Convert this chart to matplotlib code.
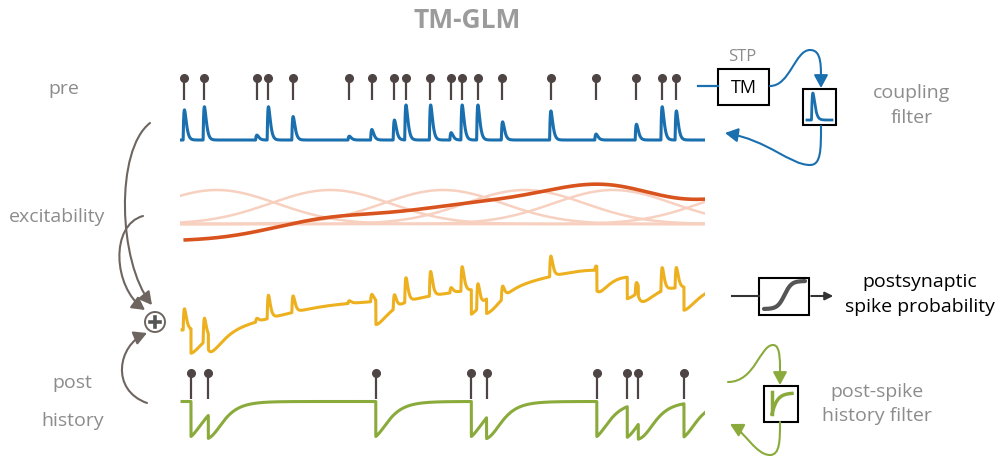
import numpy as np
import matplotlib.pyplot as plt
from matplotlib.patches import Rectangle, Circle, FancyArrowPatch
from matplotlib.path import Path

plt.rcParams['font.family'] = ['Open Sans', 'DejaVu Sans']

# spike times in ms (1000 ms window)
pre_spikes = [8, 46, 146, 168, 215, 322, 365, 408, 430, 477, 516, 537, 567, 614, 706, 792, 869, 918, 945]
# coupling amplitude of each pre spike after the TM short-term plasticity
pre_amps = [0.86, 0.95, 0.14, 0.95, 0.67, 0.11, 0.30, 0.57, 1.0, 1.0, 0.21, 1.0, 1.0, 0.52, 0.83, 0.17, 0.45, 0.95, 0.83]
post_spikes = [21, 54, 373, 555, 584, 794, 852, 873, 960]

# slow excitability: gaussian basis functions (ms) and their weights
basis_centers = [70, 286, 501, 657, 825, 1105]
basis_weights = [0, 20, 22, 22, 46, 42]
basis_sigma = 114

blue = '#1a6faf'
orange = '#d9531e'
faint = '#f7d0bf'
yellow = '#edb120'
green = '#8aab3c'
pin = '#4f4444'
txt = '#8c8c8c'
arrow_gray = '#6e6560'

W, H = 1001, 465
fig = plt.figure(figsize=(W / 100, H / 100), dpi=100)

# overlay axes in pixel coordinates for labels / boxes / arrows
ax = fig.add_axes([0, 0, 1, 1])
ax.set_xlim(0, W)
ax.set_ylim(H, 0)
ax.axis('off')

# axes for the traces: x in ms, y in pixels
tr = fig.add_axes([180 / W, 0, 525 / W, 1])
tr.set_xlim(0, 1000)
tr.set_ylim(H, 0)
tr.axis('off')

t = np.linspace(0, 1000, 10001)


def alpha_kernel(s, tau=2.5):
    s = np.clip(s, 0, None)
    return (s / tau) * np.exp(1 - s / tau)


# coupling trace
blue_up = np.zeros_like(t)
for ts, a in zip(pre_spikes, pre_amps):
    blue_up += 35 * a * alpha_kernel(t - ts + 2.0)

# excitability
bases = [np.exp(-(t - c) ** 2 / (2 * basis_sigma ** 2)) for c in basis_centers]
exc_up = sum(w * b for w, b in zip(basis_weights, bases))

# post-spike history
s = np.zeros_like(t)
for ts in post_spikes:
    s += np.where(t >= ts, np.exp(-(t - ts) / 24.0), 0)
hist_up = -35 * np.tanh(1.5 * s) / np.tanh(1.5)

total_up = 1.07 * exc_up + 0.7 * blue_up + 0.7 * hist_up

# rows
tr.plot(t, 140 - blue_up, color=blue, lw=2.2)
for b in bases:
    tr.plot(t, 224 - 34 * b, color=faint, lw=1.8)
m = t >= 10
tr.plot(t[m], 241 - exc_up[m], color=orange, lw=2.6)
m = t >= 4
tr.plot(t[m], 331 - total_up[m], color=yellow, lw=2.2)
tr.plot(t[m], 401.5 - hist_up[m], color=green, lw=2.2)

tr.vlines(pre_spikes, 79, 100, color=pin, lw=1.6)
tr.plot(pre_spikes, [78] * len(pre_spikes), 'o', color=pin, ms=5.5)
tr.vlines(post_spikes, 374, 399, color=pin, lw=1.6)
tr.plot(post_spikes, [373] * len(post_spikes), 'o', color=pin, ms=5.5)

# text labels
ax.text(467, 20, 'TM-GLM', ha='center', va='center', fontsize=19, fontweight='bold', color='#9b9b9b')
ax.text(64, 89, 'pre', ha='center', va='center', fontsize=14, color=txt)
ax.text(57, 217, 'excitability', ha='center', va='center', fontsize=14, color=txt)
ax.text(72, 383, 'post', ha='center', va='center', fontsize=14, color=txt)
ax.text(73, 421, 'history', ha='center', va='center', fontsize=14, color=txt)
ax.text(742, 57, 'STP', ha='center', va='center', fontsize=12, color=txt)
ax.text(912, 93, 'coupling', ha='center', va='center', fontsize=14, color=txt)
ax.text(912, 118, 'filter', ha='center', va='center', fontsize=14, color=txt)
ax.text(920, 282, 'postsynaptic', ha='center', va='center', fontsize=14, color='black')
ax.text(920, 307, 'spike probability', ha='center', va='center', fontsize=14, color='black')
ax.text(877, 392, 'post-spike', ha='center', va='center', fontsize=14, color=txt)
ax.text(877, 416, 'history filter', ha='center', va='center', fontsize=14, color=txt)

# TM box
ax.plot([698, 718], [86.5, 86.5], color=blue, lw=1.6)
ax.add_patch(Rectangle((718, 69), 51, 36, fill=False, ec='black', lw=1.5))
ax.text(743.5, 88, 'TM', ha='center', va='center', fontsize=13, color='black')

# coupling filter box
ax.add_patch(Rectangle((802.5, 89), 33, 36.5, fill=False, ec='black', lw=1.5))
xf = np.linspace(807, 832, 300)
ax.plot(xf, 120 - 27 * alpha_kernel(xf - 811.5, 1.4), color=blue, lw=2)

# sigmoid box
ax.plot([732, 758.5], [296, 296], color='#333333', lw=1.5)
ax.add_patch(Rectangle((758.5, 277.5), 50, 37, fill=False, ec='black', lw=1.5))
xs = np.linspace(764, 805, 200)
ax.plot(xs, 309 - 28 / (1 + np.exp(-(xs - 784.5) / 3.5)), color='#555555', lw=3, solid_capstyle='round')
ax.add_patch(FancyArrowPatch((808.5, 296), (836, 296), arrowstyle='-|>', mutation_scale=12, color='#333333', lw=1.5))

# history filter box
ax.add_patch(Rectangle((763.5, 385.5), 34, 36, fill=False, ec='black', lw=1.5))
xh = np.linspace(772, 792, 200)
ax.plot([772, 772], [392, 414], color=green, lw=2.5)
ax.plot(xh, 414 - 21 * (1 - np.exp(-(xh - 772) / 5)), color=green, lw=2.5)

# plus node
ax.add_patch(Circle((155, 322), 10, fill=False, ec=arrow_gray, lw=1.4))
ax.plot([150, 160], [322, 322], color='#555555', lw=2.6)
ax.plot([155, 155], [317, 327], color='#555555', lw=2.6)

C4 = [Path.MOVETO, Path.CURVE4, Path.CURVE4, Path.CURVE4]
C7 = C4 + [Path.CURVE4] * 3


def curve_arrow(verts, codes, color):
    p = FancyArrowPatch(path=Path(verts, codes), arrowstyle='-|>,head_length=0.55,head_width=0.3',
                        mutation_scale=14, color=color, lw=1.5)
    ax.add_patch(p)


curve_arrow([(150, 123), (115, 150), (118, 262), (152, 305)], C4, arrow_gray)
curve_arrow([(143, 216), (110, 225), (113, 287), (145, 310)], C4, arrow_gray)
curve_arrow([(147, 403), (110, 390), (118, 345), (147, 333)], C4, arrow_gray)

curve_arrow([(770, 86), (790, 86), (795, 50), (810, 50), (822, 50), (821, 66), (821, 88)], C7, blue)
curve_arrow([(821, 126), (821, 150), (821, 165), (810, 165), (790, 165), (768, 140), (725, 133)], C7, blue)
curve_arrow([(728, 382), (755, 382), (760, 345), (773, 345), (781, 345), (780, 362), (780, 385)], C7, green)
curve_arrow([(780, 422), (780, 440), (780, 455), (770, 455), (756, 455), (745, 432), (730, 424)], C7, green)

fig.savefig('out.png', dpi=100)
